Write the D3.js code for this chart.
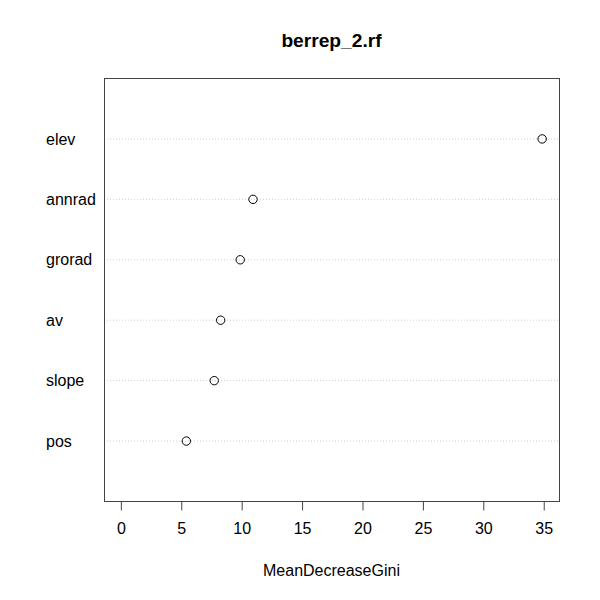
<!DOCTYPE html>
<html>
<head>
<meta charset="utf-8">
<script src="https://cdn.jsdelivr.net/npm/d3@7"></script>
<style>
  body { margin: 0; background: #fff; }
  text { font-family: "Liberation Sans", Arial, sans-serif; fill: #000; }
</style>
</head>
<body>
<div id="chart"></div>
<script>
// variable importance, bottom to top as dotchart draws them
const vars = ["pos", "slope", "av", "grorad", "annrad", "elev"];
const gini = [5.42, 7.73, 8.26, 9.88, 10.94, 34.87];
const xTicks = [0, 5, 10, 15, 20, 25, 30, 35];

const width = 600, height = 600;
const margin = {top: 78, right: 41, bottom: 99, left: 104};

const svg = d3.select("#chart").append("svg")
    .attr("width", width)
    .attr("height", height);

// R pads the x range by 4% on each side
const xmax = d3.max(gini);
const pad = xmax * 0.04;
const x = d3.scaleLinear()
    .domain([-pad, xmax + pad])
    .range([margin.left, width - margin.right]);

const y = d3.scaleLinear()
    .domain([0, vars.length + 1])
    .range([height - margin.bottom + 0.5, margin.top + 0.5]);

// dotted guide lines
svg.append("g")
    .selectAll("line")
    .data(vars)
    .enter()
    .append("line")
    .attr("x1", margin.left)
    .attr("x2", width - margin.right)
    .attr("y1", (d, i) => y(i + 1))
    .attr("y2", (d, i) => y(i + 1))
    .attr("stroke", "#cfcfcf")
    .attr("stroke-width", 1)
    .attr("stroke-dasharray", "1,2");

// row labels
svg.append("g")
    .selectAll("text")
    .data(vars)
    .enter()
    .append("text")
    .attr("x", 46)
    .attr("y", (d, i) => y(i + 1))
    .attr("dy", "0.35em")
    .style("font-size", "16px")
    .text(d => d);

// points
svg.append("g")
    .selectAll("circle")
    .data(gini)
    .enter()
    .append("circle")
    .attr("cx", d => x(d))
    .attr("cy", (d, i) => y(i + 1))
    .attr("r", 4.2)
    .attr("fill", "none")
    .attr("stroke", "#000")
    .attr("stroke-width", 1);

// box
svg.append("rect")
    .attr("x", margin.left + 0.5)
    .attr("y", margin.top + 0.5)
    .attr("width", width - margin.left - margin.right)
    .attr("height", height - margin.top - margin.bottom)
    .attr("fill", "none")
    .attr("stroke", "#444")
    .attr("stroke-width", 1);

// x axis
const axis = svg.append("g")
    .attr("transform", "translate(0," + (height - margin.bottom + 0.5) + ")")
    .call(d3.axisBottom(x)
        .tickValues(xTicks)
        .tickSize(9)
        .tickPadding(12)
        .tickFormat(d3.format("d")));
axis.select(".domain")
    .attr("d", "M" + x(xTicks[0]) + ",0H" + x(xTicks[xTicks.length - 1]))
    .attr("stroke", "#444");
axis.selectAll(".tick line").attr("stroke", "#444");
axis.selectAll(".tick text")
    .style("font-size", "16px")
    .style("font-family", "'Liberation Sans', Arial, sans-serif")
    .attr("fill", "#000");

// axis title
svg.append("text")
    .attr("x", (margin.left + width - margin.right) / 2)
    .attr("y", 570)
    .attr("dy", "0.35em")
    .attr("text-anchor", "middle")
    .style("font-size", "16px")
    .text("MeanDecreaseGini");

// main title
svg.append("text")
    .attr("x", (margin.left + width - margin.right) / 2)
    .attr("y", 40)
    .attr("dy", "0.35em")
    .attr("text-anchor", "middle")
    .style("font-size", "19.2px")
    .style("font-weight", "bold")
    .text("berrep_2.rf");
</script>
</body>
</html>
